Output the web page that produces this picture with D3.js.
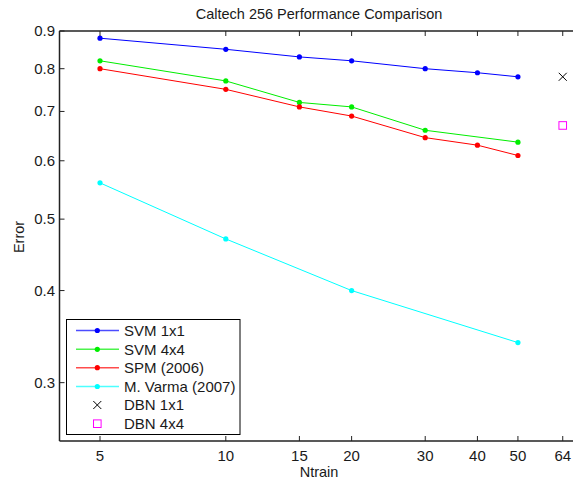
<!DOCTYPE html>
<html><head><meta charset="utf-8">
<script src="https://cdn.jsdelivr.net/npm/d3@7"></script>
<style>body{margin:0;background:#fff}svg{display:block;font-family:"Liberation Sans",Arial,sans-serif}</style>
</head><body>
<svg id="c" width="573" height="481"></svg>
<script>
const ntrainTicks = [5, 10, 15, 20, 30, 40, 50, 64];
const errorTicks = [0.3, 0.4, 0.5, 0.6, 0.7, 0.8, 0.9];
const svm1x1X = [5, 10, 15, 20, 30, 40, 50];
const svm1x1Y = [0.88, 0.85, 0.83, 0.82, 0.80, 0.79, 0.78];
const svm4x4X = [5, 10, 15, 20, 30, 50];
const svm4x4Y = [0.82, 0.77, 0.72, 0.71, 0.66, 0.636];
const spmX = [5, 10, 15, 20, 30, 40, 50];
const spmY = [0.80, 0.75, 0.71, 0.69, 0.645, 0.63, 0.61];
const varmaX = [5, 10, 20, 50];
const varmaY = [0.56, 0.47, 0.40, 0.34];
const dbn1x1 = [[64, 0.78]];
const dbn4x4 = [[64, 0.67]];

const series = [
  {name: "SVM 1x1", color: "#0000ff", x: svm1x1X, y: svm1x1Y},
  {name: "SVM 4x4", color: "#00ee00", x: svm4x4X, y: svm4x4Y},
  {name: "SPM (2006)", color: "#ff0000", x: spmX, y: spmY},
  {name: "M. Varma (2007)", color: "#00ffff", x: varmaX, y: varmaY}
];

const svg = d3.select("#c");
const x = d3.scaleLog().domain([4, 70]).range([59.5, 579]);
const y = d3.scaleLog().domain([0.25, 0.9]).range([441, 31]);
const fs = 15;
const txt = "#1a1a1a";

// lines
const line = d3.line().x(d => x(d[0])).y(d => y(d[1]));
series.forEach(s => {
  const pts = s.x.map((v, i) => [v, s.y[i]]);
  svg.append("path").attr("d", line(pts)).attr("fill", "none").attr("stroke", s.color).attr("stroke-width", 1);
  svg.selectAll(null).data(pts).enter().append("circle")
    .attr("cx", d => x(d[0])).attr("cy", d => y(d[1])).attr("r", 2.6).attr("fill", s.color);
});
// DBN markers
const xMark = (g, cx, cy, r) => g.append("path")
  .attr("d", `M${cx-r},${cy-r}L${cx+r},${cy+r}M${cx-r},${cy+r}L${cx+r},${cy-r}`)
  .attr("stroke", "#000").attr("stroke-width", 1).attr("fill", "none");
const sqMark = (g, cx, cy, r) => g.append("rect")
  .attr("x", cx-r).attr("y", cy-r).attr("width", 2*r).attr("height", 2*r)
  .attr("stroke", "#ff00ff").attr("stroke-width", 1).attr("fill", "none");
dbn1x1.forEach(d => xMark(svg, x(d[0]), y(d[1]), 4));
dbn4x4.forEach(d => sqMark(svg, x(d[0]), y(d[1]), 3.8));

// axes
const ax = svg.append("g").attr("stroke", "#222").attr("stroke-width", 1.5);
ax.append("line").attr("x1", x.range()[0]).attr("x2", 600).attr("y1", 441).attr("y2", 441);
ax.append("line").attr("x1", x.range()[0]).attr("x2", 600).attr("y1", 31).attr("y2", 31);
ax.append("line").attr("x1", x.range()[0]).attr("x2", x.range()[0]).attr("y1", 31).attr("y2", 441);
ntrainTicks.forEach(t => {
  ax.append("line").attr("x1", x(t)).attr("x2", x(t)).attr("y1", 441).attr("y2", 436).attr("stroke-width", 1);
  ax.append("line").attr("x1", x(t)).attr("x2", x(t)).attr("y1", 31).attr("y2", 36).attr("stroke-width", 1);
  svg.append("text").attr("x", x(t)).attr("y", 461).attr("text-anchor", "middle")
    .attr("font-size", fs).attr("fill", txt).text(t);
});
errorTicks.forEach(t => {
  ax.append("line").attr("x1", x.range()[0]).attr("x2", x.range()[0] + 5).attr("y1", y(t)).attr("y2", y(t)).attr("stroke-width", 1);
  svg.append("text").attr("x", 55).attr("y", y(t) + 5).attr("text-anchor", "end")
    .attr("font-size", fs).attr("fill", txt).text(t.toFixed(1));
});

svg.append("text").attr("x", 319).attr("y", 19).attr("text-anchor", "middle")
  .attr("font-size", 14.5).attr("fill", txt).text("Caltech 256 Performance Comparison");
svg.append("text").attr("x", 319).attr("y", 477).attr("text-anchor", "middle")
  .attr("font-size", 14.5).attr("fill", txt).text("Ntrain");
svg.append("text").attr("transform", "translate(24,237) rotate(-90)").attr("text-anchor", "middle")
  .attr("font-size", 14.5).attr("fill", txt).text("Error");

// legend
const lg = svg.append("g");
lg.append("rect").attr("x", 66.5).attr("y", 319.5).attr("width", 173.5).attr("height", 115)
  .attr("fill", "#fff").attr("stroke", "#000").attr("stroke-width", 1);
const rowY = [330.5, 349.3, 367.7, 386.5, 405, 423.7];
series.forEach((s, i) => {
  lg.append("line").attr("x1", 76).attr("x2", 119).attr("y1", rowY[i]).attr("y2", rowY[i])
    .attr("stroke", s.color).attr("stroke-width", 1.5).attr("stroke-opacity", 0.7);
  lg.append("circle").attr("cx", 97.3).attr("cy", rowY[i]).attr("r", 2.6).attr("fill", s.color);
  lg.append("text").attr("x", 124).attr("y", rowY[i] + 5.3).attr("font-size", fs).attr("fill", txt).text(s.name);
});
xMark(lg, 97.3, rowY[4], 4);
lg.append("text").attr("x", 124).attr("y", rowY[4] + 5.3).attr("font-size", fs).attr("fill", txt).text("DBN 1x1");
sqMark(lg, 97.3, rowY[5], 3.8);
lg.append("text").attr("x", 124).attr("y", rowY[5] + 5.3).attr("font-size", fs).attr("fill", txt).text("DBN 4x4");
</script>
</body></html>
